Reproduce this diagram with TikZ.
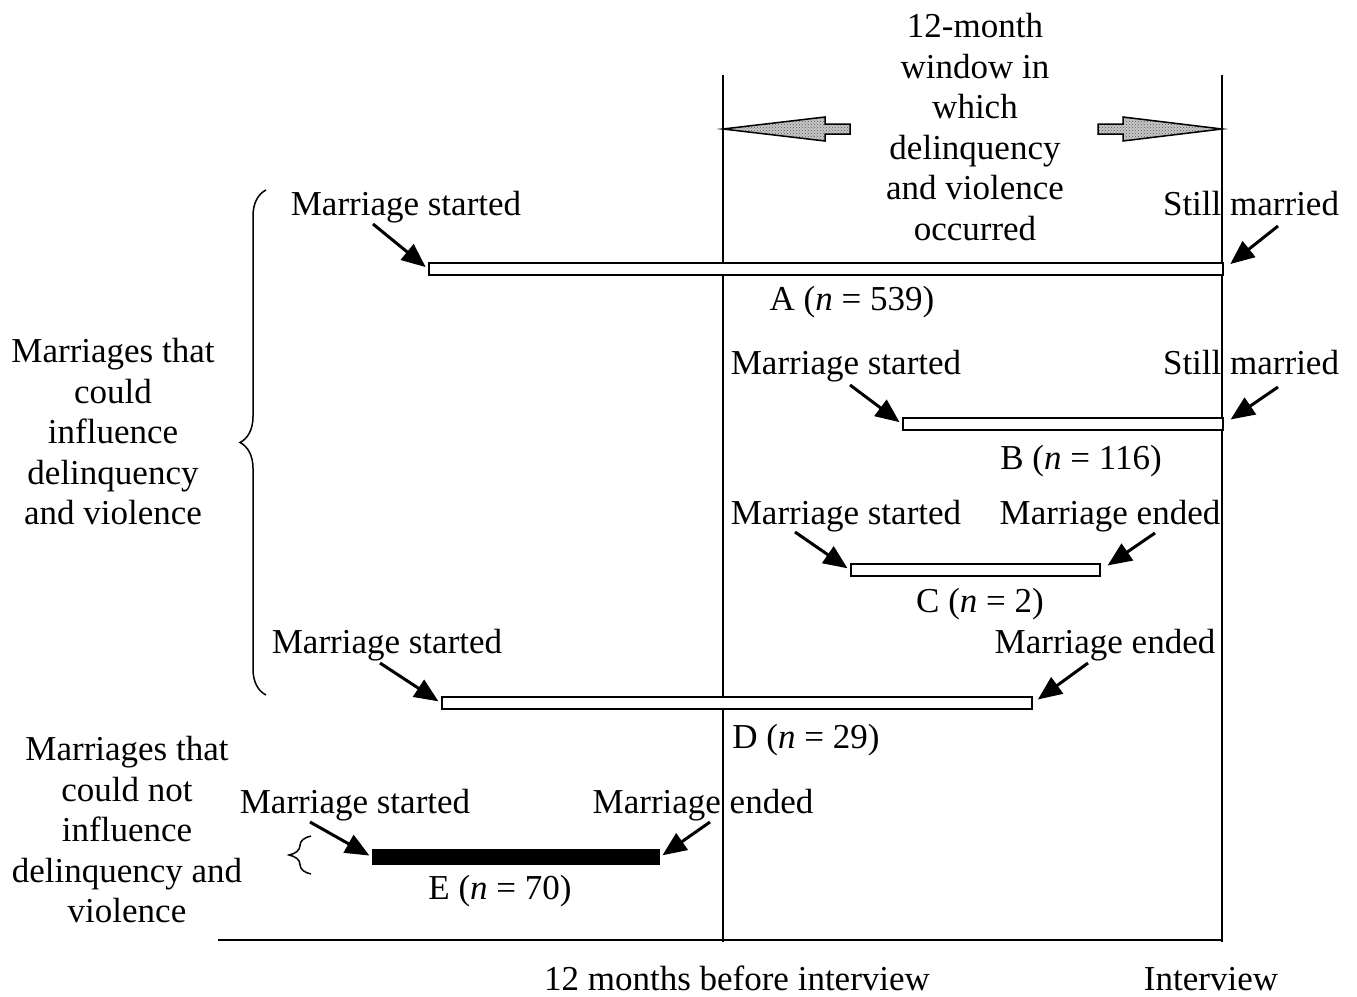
\documentclass[tikz,border=0pt]{standalone}
\usepackage{fontspec}
\setmainfont{Liberation Serif}
\usetikzlibrary{arrows.meta,decorations.pathreplacing,patterns}
\tikzset{
  lbl/.style={anchor=base,inner sep=0pt,font=\fontsize{35}{40.5}\selectfont},
  blk/.style={align=center,inner sep=0pt,font=\fontsize{35}{40.5}\selectfont},
  bar/.style={draw,line width=2pt,fill=white,anchor=west,minimum height=12pt,inner sep=0pt},
  ptr/.style={line width=3pt,-{Triangle[length=24pt,width=20pt]},shorten >=3pt},
  winarrow/.style={line width=1.5pt,preaction={fill=gray!45},pattern=crosshatch dots,pattern color=gray!70!black},
}
\begin{document}
\begin{tikzpicture}[x=1pt,y=-1pt]
      \useasboundingbox (0,0) rectangle (1357,996);
      % time lines
      \draw[line width=2pt] (723,75) -- (723,942);
      \draw[line width=2pt] (1222,75) -- (1222,942);
      \draw[line width=2pt] (218,940) -- (1222,940);
      % window arrows
      \draw[winarrow]
        (723,129) -- (825,117) -- (825,124) -- (850,124) -- (850,134) -- (825,134) -- (825,141) -- cycle;
      \draw[winarrow]
        (1222,129) -- (1123,117) -- (1123,124) -- (1098,124) -- (1098,134) -- (1123,134) -- (1123,141) -- cycle;
      \draw
        (975,127) node[blk] (win){12-month\\window in\\which\\delinquency\\and violence\\occurred}
        (737,990) node[lbl] (before){12 months before interview}
        (1211,990) node[lbl] (intv){Interview}
        (113,432) node[blk] (could){Marriages that\\could\\influence\\delinquency\\and violence}
        (127,830) node[blk] (couldnot){Marriages that\\could not\\influence\\delinquency and\\violence};
      % bars
      \draw
        (428,269) node[bar,minimum width=794pt] (barA){}
        (902,424) node[bar,minimum width=320pt] (barB){}
        (850,570) node[bar,minimum width=249pt] (barC){}
        (441,703) node[bar,minimum width=590pt] (barD){}
        (372,857) node[bar,fill=black,minimum width=286pt,minimum height=14pt] (barE){};
      \draw
        (852,310) node[lbl] (nA){A (\textit{n} = 539)}
        (1081,469) node[lbl] (nB){B (\textit{n} = 116)}
        (980,612) node[lbl] (nC){C (\textit{n} = 2)}
        (806,748) node[lbl] (nD){D (\textit{n} = 29)}
        (500,899) node[lbl] (nE){E (\textit{n} = 70)};
      % end labels
      \draw
        (406,215) node[lbl] (sA){Marriage started}
        (1251,215) node[lbl] (eA){Still married}
        (846,374) node[lbl] (sB){Marriage started}
        (1251,374) node[lbl] (eB){Still married}
        (846,524) node[lbl] (sC){Marriage started}
        (1110,524) node[lbl] (eC){Marriage ended}
        (387,653) node[lbl] (sD){Marriage started}
        (1105,653) node[lbl] (eD){Marriage ended}
        (355,813) node[lbl] (sE){Marriage started}
        (703,813) node[lbl] (eE){Marriage ended};
      \coordinate (tsA) at (373,224);
      \coordinate (teA) at (1278,226);
      \coordinate (tsB) at (850,385);
      \coordinate (teB) at (1278,387);
      \coordinate (tsC) at (795,532);
      \coordinate (teC) at (1155,533);
      \coordinate (tsD) at (380,663);
      \coordinate (teD) at (1088,663);
      \coordinate (tsE) at (310,822);
      \coordinate (teE) at (710,822);
      \begin{scope}[ptr]
        \draw (tsA) to (barA.west);
        \draw[shorten >=8pt] (teA) to (barA.east);
        \draw (tsB) to (barB.west);
        \draw[shorten >=8pt] (teB) to (barB.east);
        \draw (tsC) to (barC.west);
        \draw[shorten >=8pt] (teC) to (barC.east);
        \draw (tsD) to (barD.west);
        \draw[shorten >=6pt] (teD) to (barD.east);
        \draw (tsE) to (barE.west);
        \draw (teE) to (barE.east);
      \end{scope}
      % braces
      \draw[line width=1.5pt,decorate,decoration={brace,amplitude=26pt}] (266,695) -- (266,190);
      \draw[line width=1.5pt,decorate,decoration={brace,amplitude=22pt}] (311,874) -- (311,836);
    \end{tikzpicture}
\end{document}
